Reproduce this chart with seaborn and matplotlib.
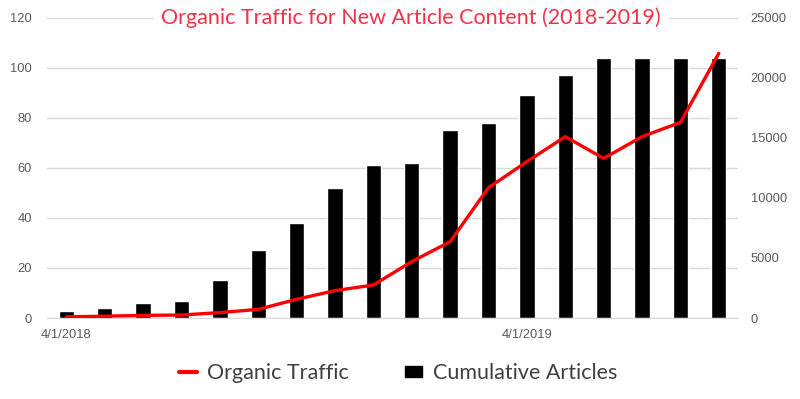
import pandas as pd
import seaborn as sns
import matplotlib.pyplot as plt
from matplotlib.lines import Line2D
from matplotlib.patches import Patch

# monthly data, April 2018 - September 2019
months = pd.date_range("2018-04-01", periods=18, freq="MS").strftime("%-m/%-d/%Y").tolist()
cumulative_articles = [3, 4, 6, 7, 15, 27, 38, 52, 61, 62, 75, 78, 89, 97, 104, 104, 104, 104]
organic_traffic = [100, 150, 220, 250, 450, 720, 1560, 2280, 2750, 4700, 6360, 10860,
                   13030, 15110, 13300, 15110, 16300, 22050]
shown_ticks = {0: "4/1/2018", 12: "4/1/2019"}

df = pd.DataFrame({"month": months, "idx": range(len(months)),
                   "articles": cumulative_articles, "traffic": organic_traffic})

sns.set_style("white")
plt.rcParams["font.family"] = ["Liberation Sans", "DejaVu Sans"]

fig = plt.figure(figsize=(8, 3.99), dpi=100)
ax = fig.add_axes([0.059, 0.203, 0.8635, 0.752])

# bars - cumulative articles on left axis
sns.barplot(data=df, x="month", y="articles", color="black", width=0.4,
            saturation=1, ax=ax, zorder=2)
ax.set_ylim(0, 120)
ax.set_yticks(range(0, 121, 20))
ax.set_xlim(-0.5, len(months) - 0.5)
ax.grid(axis="y", color="#D9D9D9", linewidth=1, zorder=0)
ax.set_axisbelow(True)
for s in ["top", "left", "right"]:
    ax.spines[s].set_visible(False)
ax.spines["bottom"].set_color("#D9D9D9")
ax.set_xticks(list(shown_ticks.keys()))
ax.set_xticklabels(list(shown_ticks.values()))
ax.set_xticks([-0.5, 11.5], minor=True)
ax.tick_params(axis="x", which="major", length=0, pad=8, labelsize=9.3, labelcolor="#595959")
ax.tick_params(axis="x", which="minor", length=4, color="#D9D9D9")
ax.tick_params(axis="y", length=0, pad=11, labelsize=9.3, labelcolor="#595959")
ax.set_xlabel("")
ax.set_ylabel("")

# line - organic traffic on right axis
ax2 = ax.twinx()
sns.lineplot(data=df, x="idx", y="traffic", color="#FF0000", linewidth=2.4, ax=ax2)
ax2.set_ylim(0, 25000)
ax2.set_yticks(range(0, 25001, 5000))
ax2.set_xlim(-0.5, len(months) - 0.5)
for s in ax2.spines.values():
    s.set_visible(False)
ax2.tick_params(axis="y", length=0, pad=9, labelsize=9.3, labelcolor="#595959")
ax2.set_xlabel("")
ax2.set_ylabel("")

fig.text(0.514, 0.955, "Organic Traffic for New Article Content (2018-2019)",
         ha="center", va="center", fontsize=15.5, color="#F0324A", family=["Lato", "DejaVu Sans"],
         bbox=dict(facecolor="white", edgecolor="none", pad=6), zorder=5)

handles = [Line2D([0], [0], color="#FF0000", linewidth=3),
           Patch(facecolor="black", edgecolor="black")]
fig.legend(handles, ["Organic Traffic", "Cumulative Articles"], loc="center",
           bbox_to_anchor=(0.498, 0.065), ncol=2, frameon=False, handlelength=0.8,
           handleheight=0.45, handletextpad=0.5, columnspacing=2.6,
           prop={"family": ["Lato", "DejaVu Sans"], "size": 15.5}, labelcolor="#404040")

fig.savefig("out.png", dpi=100)
